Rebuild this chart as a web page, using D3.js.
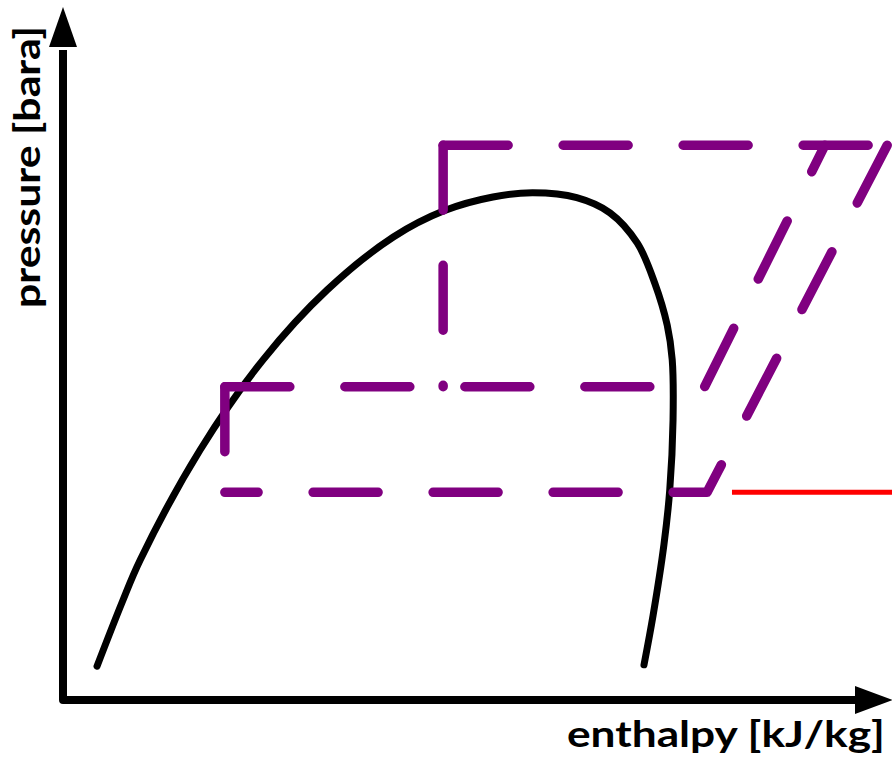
<!DOCTYPE html>
<html lang="en">

<head>
    <meta charset="UTF-8">
    <title>p-h diagram</title>
    <script src="https://cdn.jsdelivr.net/npm/d3@7"></script>
    <style>
        body { margin: 0; background: #fff; }
    </style>
</head>

<body>
    <div id="container"></div>

    <script>
        const width = 892;
        const height = 759;

        // saturation dome (enthalpy / pressure, arbitrary units 0-100)
        const domeH = [4.1, 7.1, 9.3, 16.5, 24.1, 31.8, 39.8, 45.9, 51.8, 56.6, 61.9, 65.9, 69.2, 71.3, 72.8, 73.4, 73.5, 73.1, 72.4, 71.1, 70.0];
        const domeP = [4.9, 14.1, 20.3, 36.2, 49.3, 59.4, 67.1, 70.9, 72.9, 73.5, 72.8, 70.6, 66.2, 60.4, 54.3, 49.3, 40.6, 30.4, 22.5, 12.3, 5.1];

        // pressure levels: high, intermediate, low
        const pressureLevels = [80.4, 45.4, 30.1];

        // cycle segments, each dashed from its first point
        const condenserLine = [[45.8, 80.4], [99.3, 80.4]];
        const highExpansion = [[45.8, 80.4], [45.8, 45.4]];
        const lowStageLine = [[99.3, 80.4], [77.6, 30.1], [19.5, 30.1]];
        const lowExpansion = [[19.5, 45.4], [19.5, 30.1]];
        const midStageLine = [[19.5, 45.4], [77.3, 45.4], [91.8, 80.4]];
        const redLine = [[80.6, 30.1], [100, 30.1]];

        const xLabel = 'enthalpy [kJ/kg]';
        const yLabel = 'pressure [bara]';

        const x = d3.scaleLinear().domain([0, 100]).range([63, 893]);
        const y = d3.scaleLinear().domain([0, 100]).range([700, 10]);

        const svg = d3.select('#container').append('svg')
            .attr('width', width)
            .attr('height', height);

        // axes with arrow heads
        const x0 = x(0), y0 = y(0);
        svg.append('path')
            .attr('d', `M${x0},${y(100) + 40}V${y0}H${x(100) - 38}`)
            .attr('fill', 'none')
            .attr('stroke', '#000')
            .attr('stroke-width', 8)
            .attr('stroke-linejoin', 'round');
        svg.append('path')
            .attr('d', `M${x0},${y(100) - 3}L${x0 - 14},${y(100) + 37}L${x0 + 14},${y(100) + 37}Z`)
            .attr('fill', '#000');
        svg.append('path')
            .attr('d', `M${x(100)},${y0}L${x(100) - 38},${y0 - 14}L${x(100) - 38},${y0 + 14}Z`)
            .attr('fill', '#000');

        // saturation dome
        const line = d3.line()
            .x(d => x(d[0]))
            .y(d => y(d[1]));

        svg.append('path')
            .datum(d3.zip(domeH, domeP))
            .attr('d', line.curve(d3.curveCatmullRom.alpha(0.5)))
            .attr('fill', 'none')
            .attr('stroke', '#000')
            .attr('stroke-width', 7)
            .attr('stroke-linecap', 'round');

        // dashed cycle
        const straight = d3.line()
            .x(d => x(d[0]))
            .y(d => y(d[1]));

        svg.append('g')
            .selectAll('path')
            .data([condenserLine, highExpansion, lowStageLine, lowExpansion, midStageLine])
            .join('path')
            .attr('d', straight)
            .attr('fill', 'none')
            .attr('stroke', '#800080')
            .attr('stroke-width', 9.5)
            .attr('stroke-linecap', 'round')
            .attr('stroke-linejoin', 'round')
            .attr('stroke-dasharray', '65,55');

        svg.append('path')
            .datum(redLine)
            .attr('d', straight)
            .attr('stroke', '#ff0000')
            .attr('stroke-width', 5);

        // labels
        svg.append('text')
            .attr('x', 885)
            .attr('y', 747)
            .attr('text-anchor', 'end')
            .attr('font-family', 'Lato, "Open Sans", sans-serif')
            .attr('font-weight', 'bold')
            .attr('font-size', 36)
            .attr('textLength', 318)
            .attr('lengthAdjust', 'spacingAndGlyphs')
            .text(xLabel);

        svg.append('text')
            .attr('transform', 'translate(40,308) rotate(-90)')
            .attr('font-family', 'Lato, "Open Sans", sans-serif')
            .attr('font-weight', 'bold')
            .attr('font-size', 36)
            .attr('textLength', 282)
            .attr('lengthAdjust', 'spacingAndGlyphs')
            .text(yLabel);
    </script>
</body>

</html>
